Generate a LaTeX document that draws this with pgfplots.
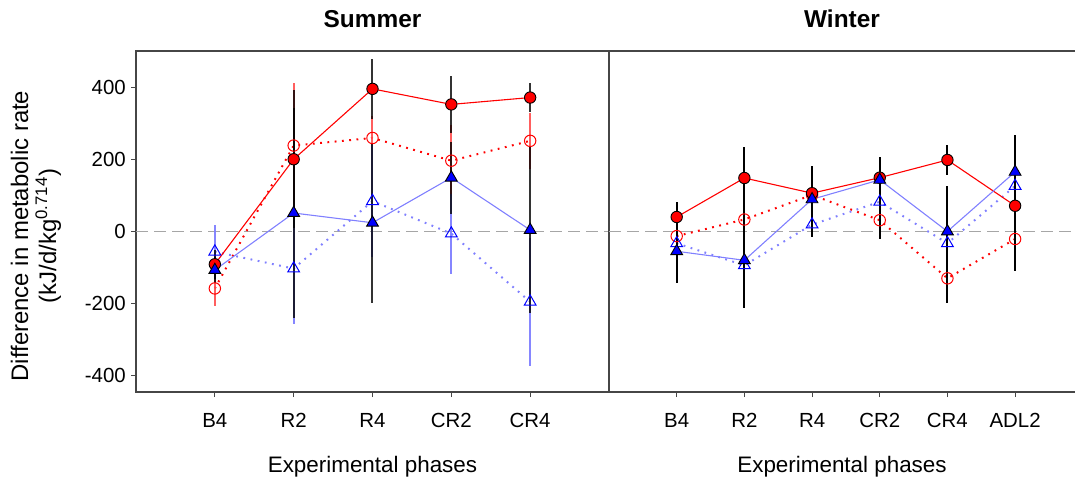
\documentclass[border=0pt]{standalone}
\usepackage{fontspec}
\setmainfont{Liberation Sans}
\usepackage{pgfplots}
\pgfplotsset{compat=1.18}
\definecolor{lblue}{RGB}{128,128,255}
\definecolor{axgray}{RGB}{70,70,70}
\pgfplotsset{
  panel/.style={
    scale only axis, height=341bp,
    ymin=-445, ymax=500,
    xmin=0,
    tick align=outside, major tick length=5bp,
    axis line style={axgray, line width=1.2bp},
    tick style={axgray, line width=1bp},
    xtick pos=bottom, ytick pos=left,
    ytick={-400,-200,0,200,400},
    yticklabels={-400,-200,0,200,400},
    font=\fontsize{20.5}{24}\selectfont,
    xticklabel style={anchor=base, yshift=-30bp, inner sep=0pt},
    yticklabel style={inner sep=0pt, xshift=-5bp},
    title style={font=\fontsize{24.5}{28}\bfseries, at={(0.5,1)}, anchor=base, yshift=18bp, inner sep=0pt},
    xlabel style={font=\fontsize{22.5}{26}\selectfont, at={(0.5,0)}, anchor=base, yshift=-80bp, inner sep=0pt},
    error bars/y dir=both, error bars/y explicit, error bars/error mark=none,
  },
  rf/.style={red, line width=1.1bp, mark=*, mark size=5.7bp, mark options={solid, fill=red, draw=black, line width=0.9bp, opacity=1},
             error bars/error bar style={black, line width=2bp, solid, opacity=#1}},
  rf/.default=1,
  ro/.style={red, line width=2bp, dash pattern=on 1.8bp off 5.5bp, mark=o, mark size=5.7bp, mark options={solid, draw=red, line width=1bp, opacity=1},
             error bars/error bar style={#1, line width=2bp, solid}},
  bf/.style={lblue, line width=1.1bp, mark=triangle*, mark size=6.8bp, mark options={solid, fill=blue, draw=black, line width=0.9bp, opacity=1},
             error bars/error bar style={black, line width=2bp, solid, opacity=#1}},
  bf/.default=1,
  bo/.style={lblue, line width=2bp, dash pattern=on 1.8bp off 5.5bp, mark=triangle, mark size=6.8bp, mark options={solid, draw=blue, line width=1bp, opacity=1},
             error bars/error bar style={#1, line width=2bp, solid}},
}
\begin{document}
\begin{tikzpicture}
\path[use as bounding box] (0bp,0bp) rectangle (1075bp,481bp);

% ---------------- Summer ----------------
\begin{axis}[panel, at={(136bp,89bp)}, anchor=south west, width=473bp,
  xmax=6, xtick={1,2,3,4,5}, xticklabels={B4,R2,R4,CR2,CR4},
  title={Summer}, xlabel={Experimental phases}]
\addplot[black!35, line width=1.2bp, dash pattern=on 12bp off 6bp] coordinates {(0,0) (6,0)};
% red open
\addplot[ro={red!70, opacity=0.9}] table[x=x, y=y, y error=e] {
x y e
1 -158 48
2 238 173
3 259 62
4 196 98
5 251 78
};
% blue open
\addplot[bo={lblue, opacity=0.95}] table[x=x, y=y, y error=e] {
x y e
1 -56 75
2 -103 154
3 84 155
4 -6 111
5 -195 178
};
% red filled
\addplot[rf=0.8] table[x=x, y=y, y error=e] {
x y e
1 -91 40
2 200 191
3 395 84
4 352 78
5 371 40
};
% blue filled
\addplot[bf=0.8] table[x=x, y=y, y error=e] {
x y e
1 -107 35
2 51 290
3 24 221
4 149 100
5 4 229
};
\end{axis}

% ---------------- Winter ----------------
\begin{axis}[panel, at={(609bp,89bp)}, anchor=south west, width=466bp,
  xmax=6.885, xtick={1,2,3,4,5,6}, xticklabels={B4,R2,R4,CR2,CR4,ADL2},
  axis x line*=box, axis y line*=left, ytick=\empty,
  title={Winter}, xlabel={Experimental phases}]
\addplot[black!35, line width=1.2bp, dash pattern=on 12bp off 6bp] coordinates {(0,0) (7,0)};
\addplot[ro=black] table[x=x, y=y, y error=e] {
x y e
1 -13 30
2 33 40
3 101 30
4 31 53
5 -130 67
6 -21 89
};
\addplot[bo=black] table[x=x, y=y, y error=e] {
x y e
1 -33 30
2 -94 40
3 19 34
4 82 40
5 -33 40
6 126 40
};
\addplot[rf] table[x=x, y=y, y error=e] {
x y e
1 40 41
2 148 85
3 106 75
4 149 57
5 198 41
6 71 40
};
\addplot[bf] table[x=x, y=y, y error=e] {
x y e
1 -55 87
2 -80 131
3 89 92
4 143 40
5 0 127
6 165 102
};
\end{axis}

\node[rotate=90, align=center, font=\fontsize{24}{28}\selectfont, inner sep=0pt] at (36bp,245bp)
  {Difference in metabolic rate\\(kJ/d/kg\textsuperscript{0.714})};
\end{tikzpicture}
\end{document}
